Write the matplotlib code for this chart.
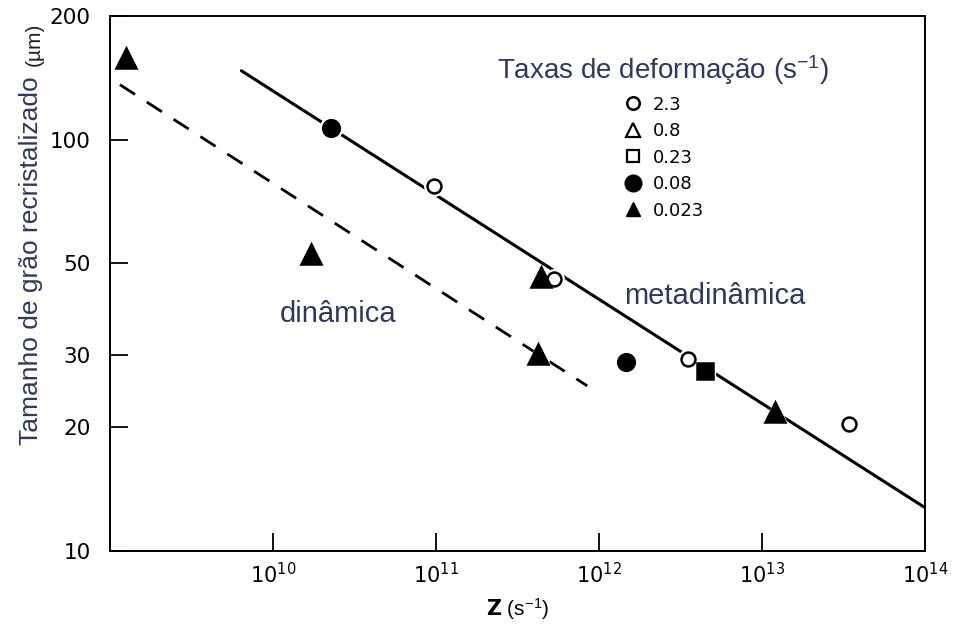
import matplotlib
matplotlib.use("Agg")
import matplotlib.pyplot as plt
from matplotlib.lines import Line2D
from matplotlib.ticker import FixedLocator, NullLocator, FixedFormatter

plt.rcParams['font.family'] = ['Liberation Sans', 'DejaVu Sans']
plt.rcParams['mathtext.default'] = 'regular'

NAVY = '#2e3860'

# data
z_open_circle = [9.7e10, 5.25e11, 3.5e12, 3.4e13]
d_open_circle = [77.3, 45.9, 29.3, 20.4]

z_fill_circle = [2.26e10, 1.46e12]
d_fill_circle = [106.7, 28.8]

z_fill_square = [4.43e12]
d_fill_square = [27.4]

z_fill_tri = [1.25e9, 1.7e10, 4.19e11, 4.4e11, 1.2e13]
d_fill_tri = [158, 52.6, 30.2, 46.4, 21.8]

# fitted lines
z_meta = [6.4e9, 9.8e13]
d_meta = [147, 12.8]
z_dyn = [1.15e9, 8.45e11]
d_dyn = [136, 25.2]

legend_labels = ['2.3', '0.8', '0.23', '0.08', '0.023']
x_ticks = [1e10, 1e11, 1e12, 1e13, 1e14]
x_ticklabels = ['$10^{10}$', '$10^{11}$', '$10^{12}$', '$10^{13}$', '$10^{14}$']
y_ticks = [10, 20, 30, 50, 100, 200]

fig = plt.figure(figsize=(9.58, 6.26), dpi=100)
ax = fig.add_axes([0.1148, 0.1198, 0.851, 0.855])

ax.plot(z_meta, d_meta, color='black', lw=2.2, solid_capstyle='round', zorder=2)
ax.plot(z_dyn, d_dyn, color='black', lw=2.0, dashes=(6.5, 5), zorder=2)


def draw(x, y, marker, ms, filled):
    # white halo so the line breaks around each marker
    ax.plot(x, y, ls='none', marker=marker, ms=ms + 4, color='white',
            mec='white', zorder=3)
    ax.plot(x, y, ls='none', marker=marker, ms=ms,
            mfc='black' if filled else 'white', mec='black', mew=1.8, zorder=4)


draw(z_open_circle, d_open_circle, 'o', 10, False)
draw(z_fill_circle, d_fill_circle, 'o', 12, True)
draw(z_fill_square, d_fill_square, 's', 11, True)
draw(z_fill_tri, d_fill_tri, '^', 14, True)

ax.set_xscale('log')
ax.set_yscale('log')
ax.set_xlim(1e9, 1e14)
ax.set_ylim(10, 200)

ax.xaxis.set_major_locator(FixedLocator(x_ticks))
ax.xaxis.set_major_formatter(FixedFormatter(x_ticklabels))
ax.xaxis.set_minor_locator(NullLocator())
ax.yaxis.set_major_locator(FixedLocator(y_ticks))
ax.yaxis.set_major_formatter(FixedFormatter([str(v) for v in y_ticks]))
ax.yaxis.set_minor_locator(NullLocator())

ax.tick_params(direction='in', length=13, width=1.3, colors='black')
ax.tick_params(axis='x', labelsize=15, pad=8)
ax.tick_params(axis='y', labelsize=15.5, pad=14)
for lbl in ax.get_xticklabels() + ax.get_yticklabels():
    lbl.set_family('DejaVu Sans')
for s in ax.spines.values():
    s.set_linewidth(1.4)

ax.set_xlabel(r'$\mathbf{Z}$ (s$^{-1}$)', fontsize=15, labelpad=6)

# y label: navy main text plus black unit
fig.text(0.032, 1 - 261 / 626, 'Tamanho de grão recristalizado', rotation=90,
         fontsize=19, color=NAVY, ha='center', va='center')
fig.text(0.036, 1 - 44 / 626, '(µm)', rotation=90, fontsize=15,
         color='#222222', ha='center', va='center')

ax.text(2.49e10, 37.6, 'dinâmica', fontsize=21, color=NAVY, ha='center', va='center')
ax.text(5.1e12, 41.6, 'metadinâmica', fontsize=21, color=NAVY, ha='center', va='center')

handles = [
    Line2D([], [], ls='none', marker='o', ms=9, mfc='white', mec='black', mew=1.8),
    Line2D([], [], ls='none', marker='^', ms=10, mfc='white', mec='black', mew=1.6),
    Line2D([], [], ls='none', marker='s', ms=9, mfc='white', mec='black', mew=1.6),
    Line2D([], [], ls='none', marker='o', ms=12, mfc='black', mec='black'),
    Line2D([], [], ls='none', marker='^', ms=10, mfc='black', mec='black'),
]
leg = ax.legend(handles, legend_labels, title='Taxas de deformação (s$^{-1}$)',
                loc='upper center', bbox_to_anchor=(0.678, 0.96), frameon=False,
                fontsize=13, title_fontsize=20, handletextpad=0.5,
                labelspacing=0.47, handlelength=1.2)
leg.get_title().set_color(NAVY)
for t in leg.get_texts():
    t.set_family('DejaVu Sans')

fig.savefig('out.png', dpi=100)
